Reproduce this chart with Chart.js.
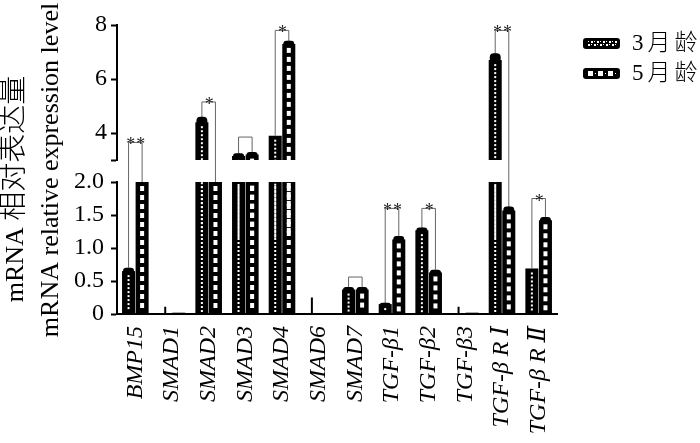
<!DOCTYPE html>
<html>
<head>
<meta charset="utf-8">
<script src="https://cdn.jsdelivr.net/npm/chart.js@4.4.1/dist/chart.umd.min.js"></script>
<style>
  html, body { margin: 0; padding: 0; background: #fff; }
  #wrap { width: 700px; height: 443px; }
</style>
</head>
<body>
<div id="wrap"><canvas id="chart"></canvas></div>
<script>
const genes = ['BMP15', 'SMAD1', 'SMAD2', 'SMAD3', 'SMAD4', 'SMAD6', 'SMAD7',
  'TGF-β1', 'TGF-β2', 'TGF-β3', 'TGF-β R Ⅰ', 'TGF-β R Ⅱ'];
const seriesNames = ['3月龄', '5月龄'];
const month3 = [0.65, 0.01, 4.4, 3.15, 3.9, 0.01, 0.37, 0.15, 1.27, 0.01, 6.7, 0.69];
const month3Err = [0.05, 0.1, 0.2, 0.1, 0, 0.24, 0.04, 0.02, 0.04, 0.1, 0.25, 0];
const month5 = [2.6, 0.02, 2.5, 3.2, 7.3, 0.01, 0.37, 1.13, 0.63, 0.02, 1.57, 1.42];
const month5Err = [0, 0, 0, 0.1, 0.12, 0, 0.04, 0.05, 0.04, 0, 0.06, 0.05];
// significance brackets (height in data units, null = none)
const bracketTop = [3.65, null, 5.15, 3.85, 7.8, null, 0.56, 1.6, 1.6, null, 7.8, 1.75];
const bracketMark = ['**', '', '*', '', '*', '', '', '**', '*', '', '**', '*'];
const lowTicks = [0, 0.5, 1, 1.5, 2];
const highTicks = [3, 4, 6, 8];
const BREAK_LOW = 2;
const BREAK_HIGH = 3;

const serif = 'Liberation Serif, DejaVu Serif, Noto Sans CJK SC, serif';

// value -> pixel on the broken axis
function valuePixel(chart, v) {
  if (v >= BREAK_HIGH) return chart.scales.yHigh.getPixelForValue(v);
  return chart.scales.yLow.getPixelForValue(Math.min(v, BREAK_LOW));
}

const decor = {
  id: 'decor',
  afterDatasetsDraw(chart) {
    const ctx = chart.ctx;
    ctx.save();
    // white fill pattern inside the bars
    chart.data.datasets.forEach((ds, di) => {
      const meta = chart.getDatasetMeta(di);
      const series = ds.stack === 'm3' ? 0 : 1;
      meta.data.forEach((el, i) => {
        if (ds.data[i] == null) return;
        const top = Math.min(el.y, el.base), base = Math.max(el.y, el.base);
        ctx.fillStyle = '#fff';
        if (series === 0) {
          for (let y = top + 4; y < base - 3; y += 4) ctx.fillRect(el.x - 1, y, 2, 2);
        } else {
          for (let y = top + 4; y < base - 6; y += 9) ctx.fillRect(el.x - 2, y, 4, 5);
        }
      });
    });

    // error bars
    const series = [[month3, month3Err], [month5, month5Err]];
    series.forEach(([vals, errs], s) => {
      const meta = chart.getDatasetMeta(s);
      vals.forEach((v, i) => {
        const e = errs[i];
        if (!e || (v > BREAK_LOW && v < BREAK_HIGH)) return;
        const el = meta.data[i];
        const y0 = valuePixel(chart, v), y1 = valuePixel(chart, v + e);
        ctx.strokeStyle = '#000';
        ctx.lineWidth = 2;
        ctx.beginPath();
        ctx.moveTo(el.x, y0);
        ctx.lineTo(el.x, y1);
        ctx.stroke();
        if (v >= 0.05) {
          ctx.fillStyle = '#000';
          ctx.beginPath();
          ctx.roundRect(el.x - el.width * 0.42, y1, el.width * 0.84, y0 - y1 + 3, 4);
          ctx.fill();
        }
      });
    });

    // significance brackets
    const m3 = chart.getDatasetMeta(0), m5 = chart.getDatasetMeta(1);
    bracketTop.forEach((b, i) => {
      if (b == null) return;
      const x3 = m3.data[i].x, x5 = m5.data[i].x;
      const yb = valuePixel(chart, b);
      const yl = valuePixel(chart, month3[i] + month3Err[i]);
      const yr = valuePixel(chart, month5[i] + month5Err[i]);
      ctx.strokeStyle = '#666';
      ctx.lineWidth = 1;
      ctx.beginPath();
      ctx.moveTo(x3, yl);
      ctx.lineTo(x3, yb);
      ctx.lineTo(x5, yb);
      ctx.lineTo(x5, yr);
      ctx.stroke();
      if (bracketMark[i]) {
        ctx.fillStyle = '#222';
        ctx.font = '18px ' + serif;
        ctx.letterSpacing = '1px';
        ctx.textAlign = 'center';
        ctx.textBaseline = 'alphabetic';
        ctx.fillText(bracketMark[i], (x3 + x5) / 2 + 1, yb + 8);
        ctx.letterSpacing = '0px';
      }
    });
    ctx.restore();
  },
  afterDraw(chart) {
    const ctx = chart.ctx;
    ctx.save();
    ctx.fillStyle = '#000';
    // y axis title, two lines
    ctx.textBaseline = 'alphabetic';
    ctx.textAlign = 'left';
    ctx.save();
    ctx.translate(23, 189);
    ctx.rotate(-Math.PI / 2);
    ctx.font = '26px ' + serif;
    const part1 = 'mRNA ';
    const w1 = ctx.measureText(part1).width;
    ctx.font = '300 29px ' + serif;
    const part2 = '相对表达量';
    const w2 = ctx.measureText(part2).width;
    ctx.font = '26px ' + serif;
    ctx.fillText(part1, -(w1 + w2) / 2, 0);
    ctx.font = '300 29px ' + serif;
    ctx.fillText(part2, -(w1 + w2) / 2 + w1, 0);
    ctx.restore();
    ctx.save();
    ctx.translate(58, 170);
    ctx.rotate(-Math.PI / 2);
    ctx.font = '26px ' + serif;
    ctx.textAlign = 'center';
    ctx.fillText('mRNA relative expression level', 0, 0);
    ctx.restore();

    // legend
    seriesNames.forEach((name, s) => {
      const x = 583, y = 38 + s * 30, w = 37, h = 11;
      ctx.fillStyle = '#000';
      ctx.beginPath();
      ctx.roundRect(x, y, w, h, 3);
      ctx.fill();
      ctx.fillStyle = '#fff';
      if (s === 0) {
        for (let cx = x + 5; cx < x + w - 4; cx += 3) {
          ctx.fillRect(cx, y + 3 + ((cx - x) % 6 === 2 ? 0 : 3), 2, 2);
          ctx.fillRect(cx, y + 3 + ((cx - x) % 6 === 2 ? 3 : 0), 1, 1);
        }
      } else {
        for (let cx = x + 5; cx < x + w - 6; cx += 10) {
          ctx.fillRect(cx, y + 3, 5, 5);
          ctx.fillRect(cx + 7, y + 5, 1, 1);
        }
      }
      ctx.fillStyle = '#000';
      ctx.font = '300 23px ' + serif;
      ctx.letterSpacing = '4px';
      ctx.textAlign = 'left';
      ctx.textBaseline = 'middle';
      ctx.fillText(name, 632, y + 6);
      ctx.letterSpacing = '0px';
    });
    ctx.restore();
  }
};

const barStyle = {
  backgroundColor: '#000',
  borderWidth: 0,
  categoryPercentage: 0.74,
  barPercentage: 0.96
};

const tickFont = { family: serif, size: 24 };

new Chart(document.getElementById('chart').getContext('2d'), {
  type: 'bar',
  data: {
    labels: genes,
    datasets: [
      { ...barStyle, label: seriesNames[0], data: month3.map(v => Math.min(v, BREAK_LOW)), yAxisID: 'yLow', stack: 'm3' },
      { ...barStyle, label: seriesNames[1], data: month5.map(v => Math.min(v, BREAK_LOW)), yAxisID: 'yLow', stack: 'm5' },
      { ...barStyle, label: seriesNames[0], data: month3.map(v => v >= BREAK_HIGH ? v : null), yAxisID: 'yHigh', stack: 'm3' },
      { ...barStyle, label: seriesNames[1], data: month5.map(v => v >= BREAK_HIGH ? v : null), yAxisID: 'yHigh', stack: 'm5' }
    ]
  },
  options: {
    responsive: true,
    maintainAspectRatio: false,
    animation: false,
    layout: { padding: { top: 25, right: 143, bottom: 0, left: 0 } },
    plugins: {
      legend: { display: false },
      tooltip: { enabled: false }
    },
    scales: {
      x: {
        type: 'category',
        grid: { display: false },
        border: { color: '#000', width: 2 },
        ticks: {
          font: { family: serif, size: 24, style: 'italic' },
          color: '#000',
          minRotation: 90,
          maxRotation: 90,
          autoSkip: false,
          padding: 4
        },
        afterFit: s => { s.height = 129; }
      },
      yHigh: {
        type: 'linear',
        position: 'left',
        stack: 'y',
        stackWeight: 135,
        weight: 3,
        stacked: false,
        min: BREAK_HIGH,
        max: 8,
        afterBuildTicks: s => { s.ticks = highTicks.map(v => ({ value: v })); },
        ticks: {
          font: tickFont,
          color: '#000',
          padding: 4,
          autoSkip: false,
          callback: v => v === BREAK_HIGH ? '' : String(v)
        },
        grid: { drawOnChartArea: false, tickLength: 6, tickWidth: 2, tickColor: '#000' },
        border: { color: '#000', width: 2 },
        afterFit: s => { s.width = 117; }
      },
      yGap: {
        type: 'linear',
        position: 'left',
        stack: 'y',
        stackWeight: 22,
        weight: 2,
        display: false
      },
      yLow: {
        type: 'linear',
        position: 'left',
        stack: 'y',
        stackWeight: 132,
        weight: 1,
        stacked: false,
        min: 0,
        max: BREAK_LOW,
        afterBuildTicks: s => { s.ticks = lowTicks.map(v => ({ value: v })); },
        ticks: {
          font: tickFont,
          color: '#000',
          padding: 7,
          autoSkip: false,
          callback: v => v === 0 ? '0' : v.toFixed(1)
        },
        grid: { drawOnChartArea: false, tickLength: 6, tickWidth: 2, tickColor: '#000' },
        border: { color: '#000', width: 2 },
        afterFit: s => { s.width = 117; }
      }
    }
  },
  plugins: [decor]
});
</script>
</body>
</html>
